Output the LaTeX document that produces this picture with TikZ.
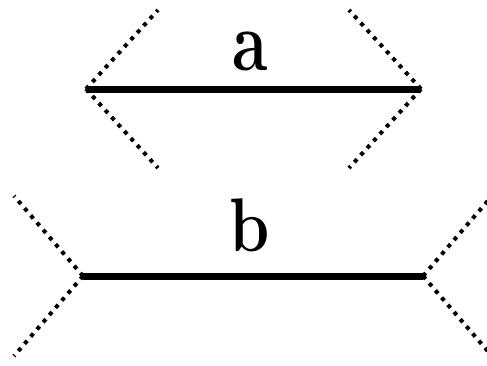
\documentclass[tikz,border=0pt]{standalone}
\begin{document}
\begin{tikzpicture}[
    x=1pt, y=-1pt,
    shaft/.style={line width=7pt},
    fin/.style={line width=4pt, dash pattern=on 4pt off 5.5pt},
    letter/.style={font=\bfseries\fontsize{76}{76}\selectfont, xscale=0.85, inner sep=0pt, anchor=base}
]
\useasboundingbox (0,0) rectangle (487,365);
\clip (0,0) rectangle (487,365);

% Nodes
\coordinate (aleft) at (86,89);
\coordinate (aright) at (421,89);
\coordinate (bleft) at (83,276);
\coordinate (bright) at (423,276);

\coordinate (aleftup) at (158,10);
\coordinate (aleftdown) at (158,168);
\coordinate (arightup) at (349,10);
\coordinate (arightdown) at (349,168);
\coordinate (bleftup) at (14,196);
\coordinate (bleftdown) at (14,356);
\coordinate (brightup) at (492,196);
\coordinate (brightdown) at (492,356);

\node (labela) [letter, yscale=1.12] at (250,70) {a};
\node (labelb) [letter] at (250,251) {b};

% Shafts
\draw [shaft] (aleft) -- (aright);
\draw [shaft] (bleft) -- (bright);

% Fins
\draw [fin] (aleft) -- (aleftup);
\draw [fin] (aleft) -- (aleftdown);
\draw [fin] (aright) -- (arightup);
\draw [fin] (aright) -- (arightdown);
\draw [fin] (bleft) -- (bleftup);
\draw [fin] (bleft) -- (bleftdown);
\draw [fin] (bright) -- (brightup);
\draw [fin] (bright) -- (brightdown);

\end{tikzpicture}
\end{document}
